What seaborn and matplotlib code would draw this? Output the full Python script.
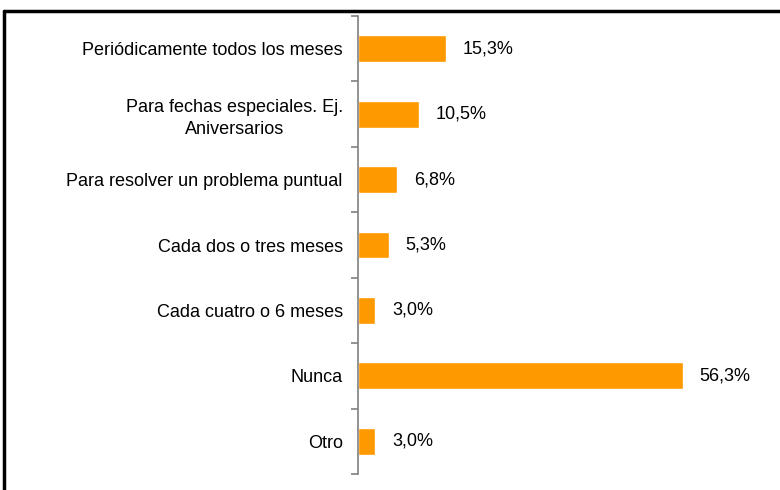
import seaborn as sns
import matplotlib.pyplot as plt
import numpy as np
import pandas as pd

categorias = [
    "Periódicamente todos los meses",
    "Para fechas especiales. Ej.\nAniversarios",
    "Para resolver un problema puntual",
    "Cada dos o tres meses",
    "Cada cuatro o 6 meses",
    "Nunca",
    "Otro",
]
valores = [15.3, 10.5, 6.8, 5.3, 3.0, 56.3, 3.0]
etiquetas = ["15,3%", "10,5%", "6,8%", "5,3%", "3,0%", "56,3%", "3,0%"]

df = pd.DataFrame({"categoria": categorias, "valor": valores})

sns.set_style("white")
plt.rcParams['font.family'] = ['Liberation Sans', 'DejaVu Sans']

fig = plt.figure(figsize=(7.8, 4.9), dpi=100)
ax = fig.add_axes([358 / 780, 16 / 490, 422 / 780, 458 / 490])

sns.barplot(data=df, y="categoria", x="valor", orient="h", color="#FF9900",
            saturation=1, width=0.41, ax=ax)

ax.set_xlim(0, 422 / 5.77)
ax.set_ylim(6.5, -0.5)
ax.set_xlabel("")
ax.set_ylabel("")
ax.set_xticks([])

# etiquetas de valor
for i, (v, t) in enumerate(zip(valores, etiquetas)):
    ax.annotate(t, (v, i), xytext=(12, 0), textcoords="offset points",
                va="center", ha="left", fontsize=13, color="black")

# ejes
for s in ["top", "right", "bottom"]:
    ax.spines[s].set_visible(False)
ax.spines["left"].set_color("#808080")
ax.spines["left"].set_linewidth(1.2)
ax.tick_params(axis="y", which="major", left=False, length=0, pad=11,
               labelsize=13, labelcolor="black")
ax.set_yticks(np.arange(-0.5, 7.0, 1.0), minor=True)
ax.tick_params(axis="y", which="minor", left=True, length=5, color="#808080", width=1.2)
for lbl in ax.get_yticklabels():
    lbl.set_horizontalalignment("right")
    lbl.set_multialignment("center")
    lbl.set_linespacing(1.35)

# marco del gráfico
fig.add_artist(plt.Line2D([4 / 780, 4 / 780], [0, 1 - 11 / 490], color="black", lw=2.5,
                          transform=fig.transFigure))
fig.add_artist(plt.Line2D([4 / 780, 1], [1 - 11 / 490, 1 - 11 / 490], color="black", lw=2.5,
                          transform=fig.transFigure))

fig.savefig("out.png", dpi=100)
